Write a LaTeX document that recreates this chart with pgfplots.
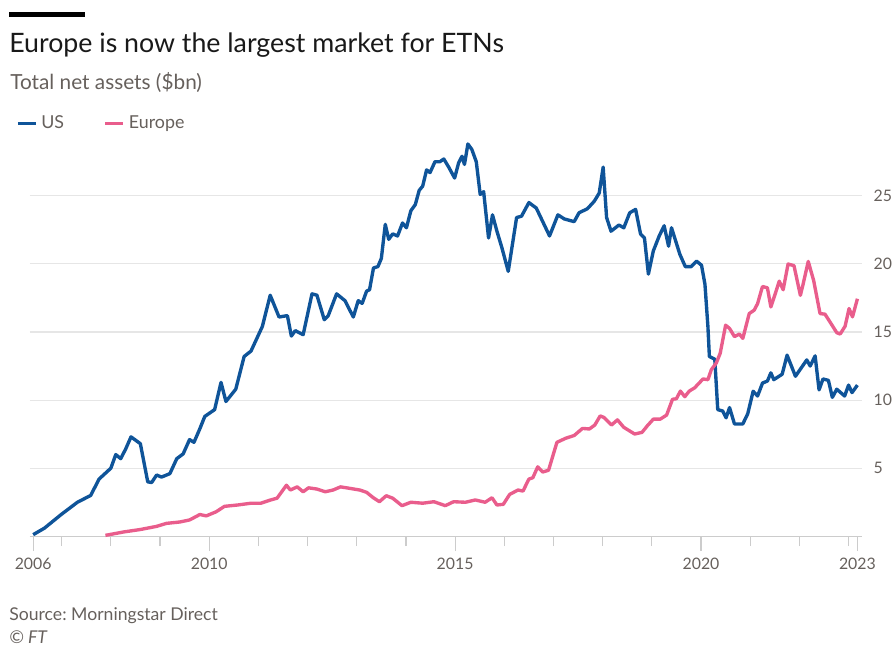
\documentclass[border=0pt]{standalone}
\usepackage{fontspec}
\setmainfont{Lato}
\usepackage{pgfplots}
\pgfplotsset{compat=1.18}
\definecolor{usblue}{HTML}{0F5499}
\definecolor{eupink}{HTML}{E95D8C}
\definecolor{txtgray}{HTML}{66605C}
\definecolor{gridgray}{HTML}{E6E6E6}
\definecolor{tickgray}{HTML}{CCCCCC}
\frenchspacing

\begin{document}
\begin{tikzpicture}
\begin{axis}[
    scale only axis,
    width=420.5pt, height=199.5pt,
    xmin=2006.35, xmax=2023.28,
    ymin=0, ymax=29,
    clip=false,
    axis x line*=bottom,
    axis y line*=right,
    x axis line style={tickgray, line width=0.6pt},
    y axis line style={draw=none},
    xtick={2006.42,2010,2015,2020,2023.18},
    xticklabels={2006,2010,2015,2020,2023},
    minor xtick={2007,2008,2009,2011,2012,2013,2014,2016,2017,2018,2019,2021,2022,2023},
    tick align=outside,
    major tick length=7.5pt,
    minor tick length=5pt,
    xtick style={tickgray, line width=0.6pt},
    minor x tick style={tickgray, line width=0.6pt},
    ytick={5,10,15,20,25},
    ytick style={draw=none},
    ymajorgrids,
    grid style={gridgray, line width=0.6pt},
    /pgf/number format/assume math mode=true,
    tick label style={font=\fontsize{8}{10}\selectfont, text=txtgray},
    yticklabel style={anchor=west, inner sep=0pt, xshift=-2pt},
    legend columns=2,
    legend style={at={(0,1)}, anchor=west, xshift=-10pt, yshift=8.85pt,
        draw=none, fill=none, font=\fontsize{9}{11}\selectfont, text=txtgray,
        /tikz/every even column/.append style={column sep=18pt}},
    legend image code/.code={\draw[#1, line width=1.7pt] (0pt,0pt) -- (9pt,0pt);},
    line join=round,
]
\addplot[usblue, line width=1.7pt] coordinates {
(2006.42,0.12) (2006.65,0.6) (2006.99,1.6) (2007.32,2.5) (2007.59,3.0) (2007.76,4.2)
(2008.00,5.0) (2008.10,6.0) (2008.20,5.7) (2008.30,6.4) (2008.41,7.3) (2008.60,6.8)
(2008.75,4.0) (2008.83,3.95) (2008.93,4.5) (2009.03,4.35) (2009.20,4.6) (2009.34,5.7)
(2009.47,6.05) (2009.60,7.1) (2009.69,6.9) (2009.81,7.9) (2009.91,8.8) (2010.11,9.3)
(2010.24,11.3) (2010.34,9.9) (2010.54,10.8) (2010.71,13.2) (2010.85,13.6) (2011.08,15.4)
(2011.24,17.7) (2011.42,16.1) (2011.59,16.2) (2011.67,14.7) (2011.75,15.1) (2011.91,14.8)
(2012.09,17.8) (2012.19,17.7) (2012.34,15.9) (2012.42,16.2) (2012.59,17.8) (2012.76,17.3)
(2012.93,16.1) (2013.03,17.3) (2013.11,17.1) (2013.20,18.0) (2013.26,18.1) (2013.34,19.7)
(2013.43,19.8) (2013.50,20.4) (2013.58,22.9) (2013.65,21.8) (2013.73,22.2) (2013.83,22.05)
(2013.93,23.0) (2014.01,22.65) (2014.10,23.9) (2014.19,24.35) (2014.27,25.4) (2014.34,25.7)
(2014.42,26.9) (2014.49,26.7) (2014.59,27.5) (2014.69,27.5) (2014.77,27.7) (2014.87,27.1)
(2014.99,26.3) (2015.07,27.4) (2015.14,27.9) (2015.19,27.3) (2015.26,28.8) (2015.34,28.4)
(2015.43,27.5) (2015.51,25.1) (2015.58,25.3) (2015.68,21.9) (2015.76,23.6) (2015.85,22.4)
(2015.95,21.2) (2016.08,19.45) (2016.25,23.4) (2016.35,23.5) (2016.50,24.5) (2016.65,24.1)
(2016.92,22.05) (2017.09,23.6) (2017.22,23.3) (2017.42,23.1) (2017.52,23.75) (2017.69,24.05)
(2017.83,24.6) (2017.93,25.2) (2018.01,27.1) (2018.08,23.4) (2018.17,22.4) (2018.33,22.85)
(2018.43,22.65) (2018.55,23.75) (2018.67,24.0) (2018.77,22.2) (2018.85,21.9) (2018.93,19.25)
(2019.03,20.95) (2019.15,22.05) (2019.25,22.8) (2019.34,21.3) (2019.40,22.65) (2019.57,20.7)
(2019.68,19.8) (2019.80,19.8) (2019.91,20.2) (2020.01,19.9) (2020.08,18.5) (2020.14,15.4)
(2020.17,13.2) (2020.28,13.0) (2020.34,9.3) (2020.44,9.2) (2020.51,8.7) (2020.58,9.45)
(2020.68,8.25) (2020.85,8.25) (2020.95,9.0) (2021.06,10.65) (2021.15,10.3) (2021.25,11.25)
(2021.35,11.4) (2021.42,12.0) (2021.48,11.5) (2021.65,11.9) (2021.75,13.3) (2021.92,11.75)
(2022.15,12.95) (2022.22,12.5) (2022.32,13.25) (2022.40,10.75) (2022.48,11.55) (2022.59,11.45)
(2022.67,10.2) (2022.76,10.8) (2022.92,10.3) (2023.00,11.1) (2023.07,10.55) (2023.18,11.1)
};
\addlegendentry{US}
\addplot[eupink, line width=1.7pt] coordinates {
(2007.89,0.07) (2008.26,0.32) (2008.60,0.5) (2008.93,0.73) (2009.13,0.95) (2009.40,1.05)
(2009.60,1.2) (2009.81,1.6) (2009.94,1.5) (2010.14,1.8) (2010.31,2.2) (2010.58,2.3)
(2010.85,2.43) (2011.05,2.43) (2011.25,2.67) (2011.38,2.8) (2011.57,3.75) (2011.65,3.4)
(2011.79,3.63) (2011.91,3.27) (2012.02,3.56) (2012.19,3.47) (2012.36,3.27) (2012.52,3.4)
(2012.67,3.63) (2012.86,3.52) (2013.06,3.4) (2013.20,3.23) (2013.33,2.85) (2013.46,2.54)
(2013.60,2.98) (2013.73,2.8) (2013.92,2.25) (2014.10,2.5) (2014.34,2.43) (2014.57,2.54)
(2014.80,2.25) (2014.97,2.54) (2015.21,2.5) (2015.41,2.67) (2015.61,2.5) (2015.75,2.83)
(2015.85,2.3) (2015.98,2.35) (2016.11,3.08) (2016.28,3.4) (2016.38,3.32) (2016.50,4.2)
(2016.58,4.3) (2016.68,5.1) (2016.78,4.72) (2016.90,4.85) (2017.07,6.9) (2017.25,7.2)
(2017.42,7.4) (2017.59,7.92) (2017.73,7.88) (2017.84,8.17) (2017.95,8.84) (2018.03,8.72)
(2018.18,8.17) (2018.30,8.55) (2018.43,8.0) (2018.65,7.51) (2018.80,7.63) (2018.91,8.12)
(2019.03,8.6) (2019.17,8.6) (2019.30,8.9) (2019.42,10.06) (2019.50,10.1) (2019.58,10.66)
(2019.67,10.25) (2019.76,10.66) (2019.87,10.9) (2020.04,11.55) (2020.14,11.5) (2020.21,12.24)
(2020.31,12.72) (2020.39,13.44) (2020.50,15.5) (2020.58,15.26) (2020.68,14.66) (2020.78,14.85)
(2020.85,14.53) (2020.98,16.35) (2021.08,16.6) (2021.15,17.08) (2021.25,18.34) (2021.35,18.24)
(2021.42,16.84) (2021.52,17.93) (2021.59,18.73) (2021.67,18.1) (2021.77,19.99) (2021.89,19.87)
(2022.02,17.69) (2022.07,18.42) (2022.18,20.18) (2022.29,18.78) (2022.42,16.35) (2022.52,16.31)
(2022.62,15.75) (2022.76,14.95) (2022.83,14.85) (2022.93,15.43) (2023.01,16.72) (2023.08,16.11)
(2023.18,17.44)
};
\addlegendentry{Europe}
\end{axis}
% header and footer text
\fill[black] (-10.5pt,262.3pt) rectangle (28pt,264.85pt);
\node[anchor=base west, inner sep=0pt, font=\fontsize{13.5}{16}\selectfont, text=black!90]
    at (-10.5pt,244.5pt) {Europe is now the largest market for ETNs};
\node[anchor=base west, inner sep=0pt, font=\fontsize{10.5}{12}\selectfont, text=txtgray]
    at (-10pt,225.85pt) {Total net assets (\$bn)};
\node[anchor=base west, inner sep=0pt, font=\fontsize{8.9}{10}\selectfont, text=txtgray]
    at (-10.5pt,-42.5pt) {Source: Morningstar Direct};
\node[anchor=base west, inner sep=0pt, font=\fontsize{8.9}{10}\selectfont\itshape, text=txtgray]
    at (-10.5pt,-54.2pt) {© FT};
% page area matching the reference, wide enough for the right-hand labels
\pgfresetboundingbox
\useasboundingbox (-15pt,-56.5pt) rectangle (437pt,270.85pt);
\end{tikzpicture}
\end{document}
